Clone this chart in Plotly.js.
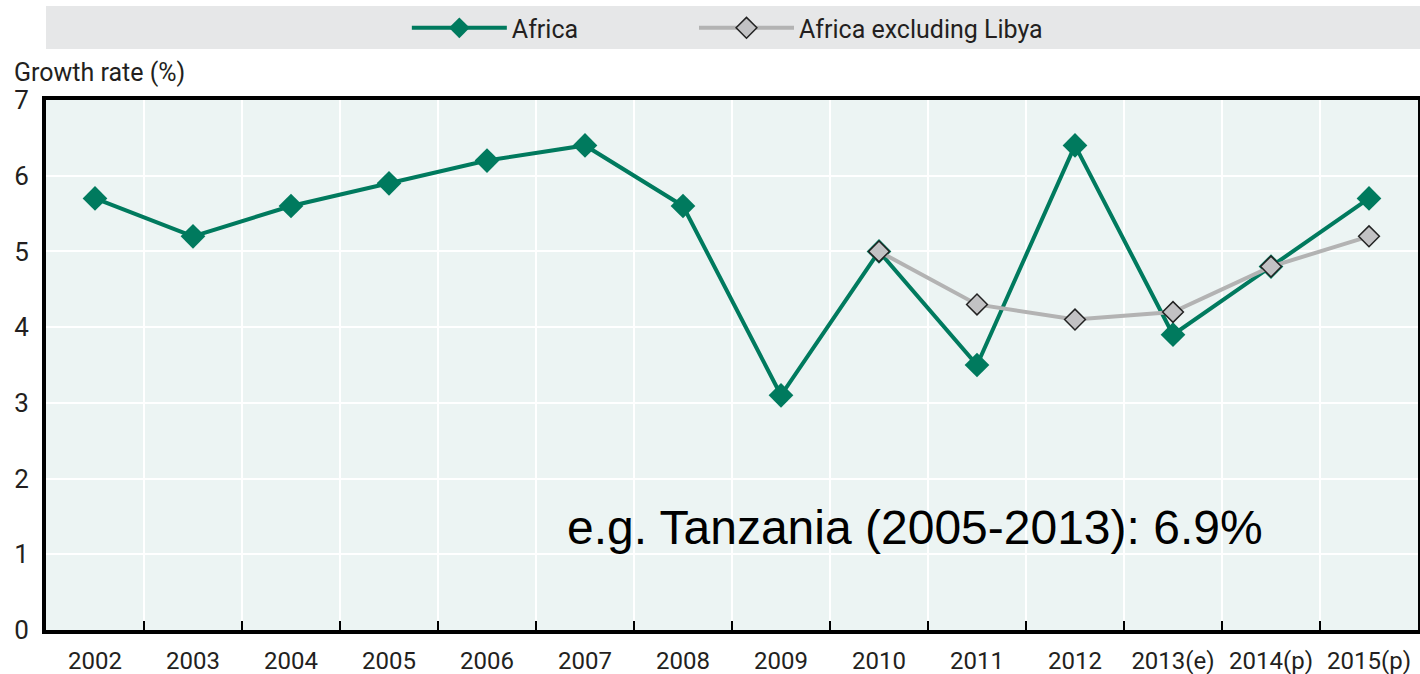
<!DOCTYPE html>
<html>
<head>
<meta charset="utf-8">
<script src="https://cdn.plot.ly/plotly-3.0.1.min.js"></script>
<style>html,body{margin:0;padding:0;background:#fff;}#chart{width:1420px;height:674px;}</style>
</head>
<body>
<div id="chart"></div>
<script>
const years = ["2002","2003","2004","2005","2006","2007","2008","2009","2010","2011","2012","2013(e)","2014(p)","2015(p)"];
const africa = [5.7, 5.2, 5.6, 5.9, 6.2, 6.4, 5.6, 3.1, 5.0, 3.5, 6.4, 3.9, 4.8, 5.7];
const exLibyaYears = ["2010","2011","2012","2013(e)","2014(p)","2015(p)"];
const exLibya = [5.0, 4.3, 4.1, 4.2, 4.8, 5.2];

const FONT = 'Roboto, "Liberation Sans", sans-serif';
const cfont = (size, color) => ({family: FONT, size: size, color: color || '#231F20'});

const traces = [
  {
    x: years, y: africa, type: 'scatter', mode: 'lines+markers', name: 'Africa',
    legend: 'legend',
    line: {color: '#007A5E', width: 4},
    marker: {symbol: 'diamond', size: 19, color: '#007A5E', line: {width: 0}}
  },
  {
    x: exLibyaYears, y: exLibya, type: 'scatter', mode: 'lines+markers', name: 'Africa excluding Libya',
    legend: 'legend2',
    line: {color: '#B3B3B3', width: 4},
    marker: {symbol: 'diamond', size: 16, color: '#C2C2C4', line: {width: 1.5, color: '#222222'}}
  }
];

const legendBase = {
  orientation: 'h', xanchor: 'left', y: 1.1358, yanchor: 'middle',
  bgcolor: 'rgba(0,0,0,0)', font: cfont(25),
  itemwidth: 95, itemclick: false
};

const layout = {
  width: 1420, height: 674,
  margin: {l: 46, r: 2, t: 100, b: 44},
  paper_bgcolor: '#ffffff',
  plot_bgcolor: '#ECF4F3',
  font: cfont(25),
  showlegend: true,
  legend: Object.assign({}, legendBase, {x: 0.263}),
  legend2: Object.assign({}, legendBase, {x: 0.4723}),
  xaxis: {
    type: 'category', categoryorder: 'array', categoryarray: years,
    range: [-0.5, 13.5], tickson: 'boundaries', tickangle: 0,
    showgrid: true, gridcolor: '#ffffff', gridwidth: 1.5,
    ticks: 'inside', ticklen: 9, tickwidth: 1.5, tickcolor: '#000',
    showline: true, linecolor: '#000', linewidth: 4, mirror: true,
    tickfont: cfont(24), ticklabelstandoff: 6,
    zeroline: false, fixedrange: true
  },
  yaxis: {
    range: [0, 7], dtick: 1, tick0: 0,
    showgrid: true, gridcolor: '#ffffff', gridwidth: 2,
    ticks: '', ticklabelstandoff: 8,
    showline: true, linecolor: '#000', linewidth: 4, mirror: true,
    tickfont: cfont(26),
    zeroline: false, fixedrange: true
  },
  shapes: [
    {type: 'rect', xref: 'paper', yref: 'paper', x0: 0, x1: 1.0015, y0: 1.0962, y1: 1.1774,
     fillcolor: '#E6E7E8', line: {width: 0}, layer: 'below'}
  ],
  annotations: [
    {text: 'Growth rate (%)', xref: 'paper', yref: 'paper', x: -0.0248, y: 1.0528,
     xanchor: 'left', yanchor: 'middle', showarrow: false, font: cfont(25)},
    {text: 'e.g. Tanzania (2005-2013): 6.9%', xref: 'paper', yref: 'paper', x: 0.6334, y: 0.1943,
     xanchor: 'center', yanchor: 'middle', showarrow: false,
     font: {family: '"Liberation Sans", Arial, sans-serif', size: 48, color: '#000000'}}
  ],
  hovermode: false
};

Plotly.newPlot('chart', traces, layout, {displayModeBar: false, staticPlot: true});
</script>
</body>
</html>
